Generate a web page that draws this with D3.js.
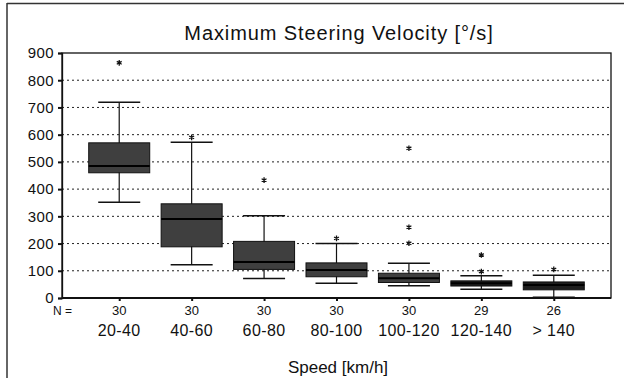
<!DOCTYPE html>
<html><head><meta charset="utf-8">
<script src="https://cdn.jsdelivr.net/npm/d3@7"></script>
<style>body{margin:0;background:#fff}svg{display:block}text{font-family:"Liberation Sans",Arial,sans-serif;fill:#111}</style>
</head><body><svg id="c" width="624" height="378"></svg>
<script>
const categories = ["20-40","40-60","60-80","80-100","100-120","120-140","> 140"];
const counts = [30,30,30,30,30,29,26];
const whiskerLow = [352,122,72,54,45,32,3];
const q1 = [460,188,105,78,57,44,30];
const median = [485,290,132,103,73,54,48];
const q3 = [570,346,208,129,91,63,59];
const whiskerHigh = [719,572,302,200,128,82,84];
const outliers = [[864],[590],[433],[219],[550,260,201],[158,97],[105]];
const yTicks = [0,100,200,300,400,500,600,700,800,900];
const title = "Maximum Steering Velocity [°/s]";
const xTitle = "Speed [km/h]";

const svg = d3.select("#c");
const L=62,R=611,T=53,B=298;
const x = d3.scalePoint().domain(categories).range([L,R]).padding(0.79);
const y = d3.scaleLinear().domain([0,900]).range([B,T]);

// outer frame
svg.append("line").attr("x1",7).attr("x2",7).attr("y1",3).attr("y2",378).attr("stroke","#333").attr("stroke-width",1.5);
svg.append("line").attr("x1",7).attr("x2",624).attr("y1",3.5).attr("y2",3.5).attr("stroke","#333").attr("stroke-width",1.5);

// title
svg.append("text").attr("x",339).attr("y",40).attr("text-anchor","middle").attr("font-size",20).attr("letter-spacing",0.9).text(title);

// grid
svg.append("g").selectAll("line").data(yTicks.filter(d=>d>0&&d<900)).join("line")
  .attr("x1",L).attr("x2",R).attr("y1",d=>y(d)).attr("y2",d=>y(d))
  .attr("stroke","#222").attr("stroke-width",1).attr("stroke-dasharray","2,3");

// frame
svg.append("rect").attr("x",L).attr("y",T).attr("width",R-L).attr("height",B-T).attr("fill","none").attr("stroke","#111").attr("stroke-width",1.3);
svg.append("line").attr("x1",L).attr("x2",R).attr("y1",B).attr("y2",B).attr("stroke","#111").attr("stroke-width",2);

// y axis
const yAxis = d3.axisLeft(y).tickValues(yTicks).tickSize(4).tickPadding(4);
const gy = svg.append("g").attr("transform",`translate(${L},0)`).call(yAxis);
gy.select(".domain").attr("stroke","#111").attr("stroke-width",1.3);
gy.selectAll(".tick line").attr("stroke","#111").attr("stroke-width",2);
gy.selectAll(".tick text").attr("font-size",15).attr("font-family","'Liberation Sans',Arial,sans-serif").attr("fill","#111").attr("letter-spacing",0.4);

// x axis ticks
const xAxis = d3.axisBottom(x).tickSize(3).tickFormat("");
const gx = svg.append("g").attr("transform",`translate(0,${B})`).call(xAxis);
gx.select(".domain").remove();
gx.selectAll(".tick line").attr("stroke","#111").attr("stroke-width",2);

// boxes
const bw = 61, cw = 42;
const g = svg.append("g");
categories.forEach((c,i)=>{
  const cx = x(c);
  g.append("line").attr("x1",cx).attr("x2",cx).attr("y1",y(whiskerHigh[i])).attr("y2",y(whiskerLow[i])).attr("stroke","#111").attr("stroke-width",1.2);
  g.append("line").attr("x1",cx-cw/2).attr("x2",cx+cw/2).attr("y1",y(whiskerHigh[i])).attr("y2",y(whiskerHigh[i])).attr("stroke","#111").attr("stroke-width",1.5);
  g.append("line").attr("x1",cx-cw/2).attr("x2",cx+cw/2).attr("y1",y(whiskerLow[i])).attr("y2",y(whiskerLow[i])).attr("stroke","#111").attr("stroke-width",1.5);
  g.append("rect").attr("x",cx-bw/2).attr("y",y(q3[i])).attr("width",bw).attr("height",y(q1[i])-y(q3[i]))
    .attr("fill", i>=5 ? "#1e1e1e" : "#3f3f3f").attr("stroke","#111").attr("stroke-width",1);
  g.append("line").attr("x1",cx-bw/2).attr("x2",cx+bw/2).attr("y1",y(median[i])).attr("y2",y(median[i])).attr("stroke","#000").attr("stroke-width",2);
  outliers[i].forEach(v=>{
    g.append("path").attr("d",d3.symbol(d3.symbolAsterisk,22)()).attr("transform",`translate(${cx},${y(v)})`).attr("stroke","#111").attr("stroke-width",1.3).attr("fill","none");
  });
});

// N labels
svg.append("text").attr("x",53).attr("y",315).attr("font-size",12).text("N =");
svg.append("g").selectAll("text").data(categories).join("text")
  .attr("x",d=>x(d)).attr("y",315).attr("text-anchor","middle").attr("font-size",13).text((d,i)=>counts[i]);
svg.append("g").selectAll("text").data(categories).join("text")
  .attr("x",d=>x(d)).attr("y",336).attr("text-anchor","middle").attr("font-size",16).attr("letter-spacing",0.4).text(d=>d);

svg.append("text").attr("x",338).attr("y",373).attr("text-anchor","middle").attr("font-size",17).text(xTitle);
</script></body></html>
